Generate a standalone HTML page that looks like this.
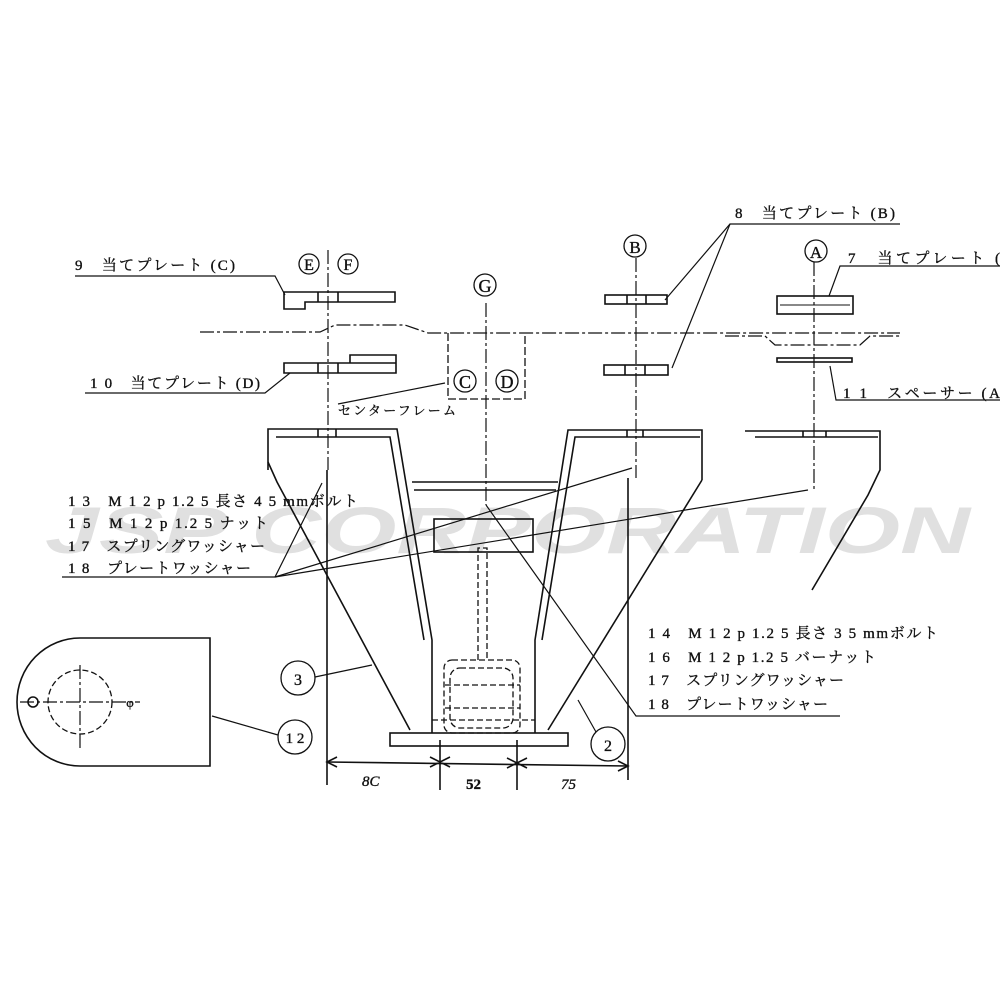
<!DOCTYPE html>
<html><head><meta charset="utf-8"><style>
html,body{margin:0;padding:0;background:#fff;}
svg{display:block;}
text{font-family:"Liberation Serif","Noto Serif CJK JP",serif;fill:#111;stroke:#111;stroke-width:0.35;}
.wm{font-family:"Liberation Sans",sans-serif;font-weight:bold;font-style:italic;fill:#e0e0e0;stroke:none;}
</style></head><body>
<svg width="1000" height="1000" viewBox="0 0 1000 1000" xmlns="http://www.w3.org/2000/svg">
<text class="wm" x="45" y="553" font-size="66" textLength="925" lengthAdjust="spacingAndGlyphs">JSP CORPORATION</text>
<g fill="none" stroke="#111" stroke-width="1.6">
<g stroke-dasharray="14,3,3,3" stroke-width="1.2">
<line x1="328" y1="250" x2="328" y2="470"/>
<line x1="486" y1="303" x2="486" y2="505"/>
<line x1="636" y1="258" x2="636" y2="478"/>
<line x1="814" y1="262" x2="814" y2="490"/>
<polyline points="200,332 320,332 335,325 405,325 428,333 900,333"/>
<polyline points="725,336 765,336 775,345 860,345 870,336 900,336"/>
<line x1="20" y1="702" x2="140" y2="702"/>
<line x1="80" y1="665" x2="80" y2="748"/>
</g>
<polyline stroke-dasharray="8,3" stroke-width="1.3" points="448,333 448,399 525,399 525,333"/>
<path d="M284,292 H395 V302 H305 V309 H284 Z"/>
<line x1="318" y1="292" x2="318" y2="302"/><line x1="338" y1="292" x2="338" y2="302"/>
<path d="M284,363 H396 V373 H284 Z M350,363 V355 H396 V363"/>
<line x1="318" y1="363" x2="318" y2="373"/><line x1="338" y1="363" x2="338" y2="373"/>
<rect x="605" y="295" width="62" height="9"/><line x1="627" y1="295" x2="627" y2="304"/><line x1="646" y1="295" x2="646" y2="304"/>
<rect x="604" y="365" width="64" height="10"/><line x1="625" y1="365" x2="625" y2="375"/><line x1="645" y1="365" x2="645" y2="375"/>
<rect x="777" y="296" width="76" height="18"/><line x1="780" y1="305" x2="850" y2="305" stroke-width="1"/>
<rect x="777" y="358" width="75" height="4"/>
<polyline points="268,470 268,429 397,429 432,640 432,733"/>
<polyline points="276,437 390,437 424,640"/>
<polyline points="268,462 277,482 410,730"/>
<line x1="318" y1="429" x2="318" y2="437"/><line x1="336" y1="429" x2="336" y2="437"/>
<polyline points="702,480 702,430 568,430 535,640 535,733"/>
<polyline points="700,437 575,437 542,640"/>
<line x1="702" y1="480" x2="548" y2="730"/>
<line x1="627" y1="430" x2="627" y2="437"/><line x1="643" y1="430" x2="643" y2="437"/>
<polyline points="745,431 880,431 880,470 868,495 812,590"/>
<line x1="755" y1="437" x2="878" y2="437"/>
<line x1="803" y1="431" x2="803" y2="437"/><line x1="826" y1="431" x2="826" y2="437"/>
<line x1="412" y1="482" x2="558" y2="482"/><line x1="414" y1="490" x2="556" y2="490"/>
<rect x="434" y="519" width="99" height="33"/>
<rect x="390" y="733" width="178" height="13"/>
<g stroke-dasharray="6,3" stroke-width="1.3">
<polyline points="478,660 478,548 487,548 487,660"/>
<rect x="444" y="660" width="76" height="73" rx="8"/>
<rect x="450" y="668" width="63" height="60" rx="10"/>
<line x1="445" y1="685" x2="520" y2="685"/><line x1="445" y1="708" x2="520" y2="708"/>
<line x1="432" y1="720" x2="535" y2="720"/>
<circle cx="80" cy="702" r="32"/>
</g>
<line x1="327" y1="470" x2="327" y2="785"/>
<line x1="628" y1="478" x2="628" y2="780"/>
<line x1="440" y1="740" x2="440" y2="790"/>
<line x1="517" y1="740" x2="517" y2="790"/>
<line x1="327" y1="762" x2="628" y2="766"/>
<path d="M337,757 L327,762 L337,767 M430,757 L440,762 L430,767 M450,757 L440,762 L450,767 M507,758 L517,763 L507,768 M527,758 L517,763 L527,768 M618,761 L628,766 L618,771"/>
<path d="M210,638 H80 A63,64 0 0 0 80,766 H210 Z"/>
<circle cx="33" cy="702" r="5"/>
<g stroke-width="1.2">
<polyline points="75,276 275,276 285,295"/>
<polyline points="85,393 265,393 290,373"/>
<polyline points="900,224 730,224 665,300"/><line x1="730" y1="224" x2="672" y2="368"/>
<polyline points="1000,266 840,266 829,296"/>
<polyline points="1000,400 836,400 830,366"/>
<line x1="338" y1="404" x2="445" y2="383"/>
<polyline points="62,577 275,577 322,483"/>
<line x1="275" y1="577" x2="632" y2="468"/>
<line x1="275" y1="577" x2="808" y2="490"/>
<polyline points="840,716 636,716 486,505"/>
<line x1="315" y1="677" x2="372" y2="665"/>
<line x1="596" y1="732" x2="578" y2="700"/>
<line x1="278" y1="735" x2="212" y2="716"/>
</g>
<g stroke-width="1.3">
<circle cx="309" cy="264" r="10"/><circle cx="348" cy="264" r="10"/>
<circle cx="485" cy="285" r="11"/><circle cx="635" cy="246" r="11"/><circle cx="816" cy="251" r="11"/>
<circle cx="465" cy="381" r="11"/><circle cx="507" cy="381" r="11"/>
<circle cx="298" cy="678" r="17"/><circle cx="608" cy="744" r="17"/><circle cx="295" cy="737" r="17"/>
</g>
</g>
<g font-size="15">
<text x="309" y="270" text-anchor="middle" font-size="16">E</text>
<text x="348" y="270" text-anchor="middle" font-size="16">F</text>
<text x="485" y="292" text-anchor="middle" font-size="18">G</text>
<text x="635" y="253" text-anchor="middle" font-size="17">B</text>
<text x="816" y="258" text-anchor="middle" font-size="17">A</text>
<text x="465" y="388" text-anchor="middle" font-size="18">C</text>
<text x="507" y="388" text-anchor="middle" font-size="18">D</text>
<text x="298" y="685" text-anchor="middle" font-size="16">3</text>
<text x="608" y="751" text-anchor="middle" font-size="16">2</text>
<text x="295" y="743" text-anchor="middle" font-size="15">1 2</text>
<text x="130" y="707" text-anchor="middle" font-size="13">φ</text>
<text x="75" y="270" textLength="160">9　当てプレート (C)</text>
<text x="90" y="388" textLength="170">1 0　当てプレート (D)</text>
<text x="735" y="218" textLength="160">8　当てプレート (B)</text>
<text x="848" y="263" textLength="152">7　当てプレート (</text>
<text x="843" y="398" textLength="157">1 1　スペーサー (A</text>
<text x="338" y="415" font-size="13" textLength="118">センターフレーム</text>
<text x="68" y="506" textLength="290">1 3　M 1 2 p 1.2 5 長さ 4 5 mmボルト</text>
<text x="68" y="528" textLength="200">1 5　M 1 2 p 1.2 5 ナット</text>
<text x="68" y="551" textLength="197">1 7　スプリングワッシャー</text>
<text x="68" y="573" textLength="183">1 8　プレートワッシャー</text>
<text x="648" y="638" textLength="290">1 4　M 1 2 p 1.2 5 長さ 3 5 mmボルト</text>
<text x="648" y="662" textLength="228">1 6　M 1 2 p 1.2 5 バーナット</text>
<text x="648" y="685" textLength="196">1 7　スプリングワッシャー</text>
<text x="648" y="709" textLength="180">1 8　プレートワッシャー</text>
<text x="362" y="786" font-style="italic">8C</text>
<text x="466" y="789" font-weight="bold">52</text>
<text x="561" y="789" font-style="italic">75</text>
</g>
</svg>
</body></html>
